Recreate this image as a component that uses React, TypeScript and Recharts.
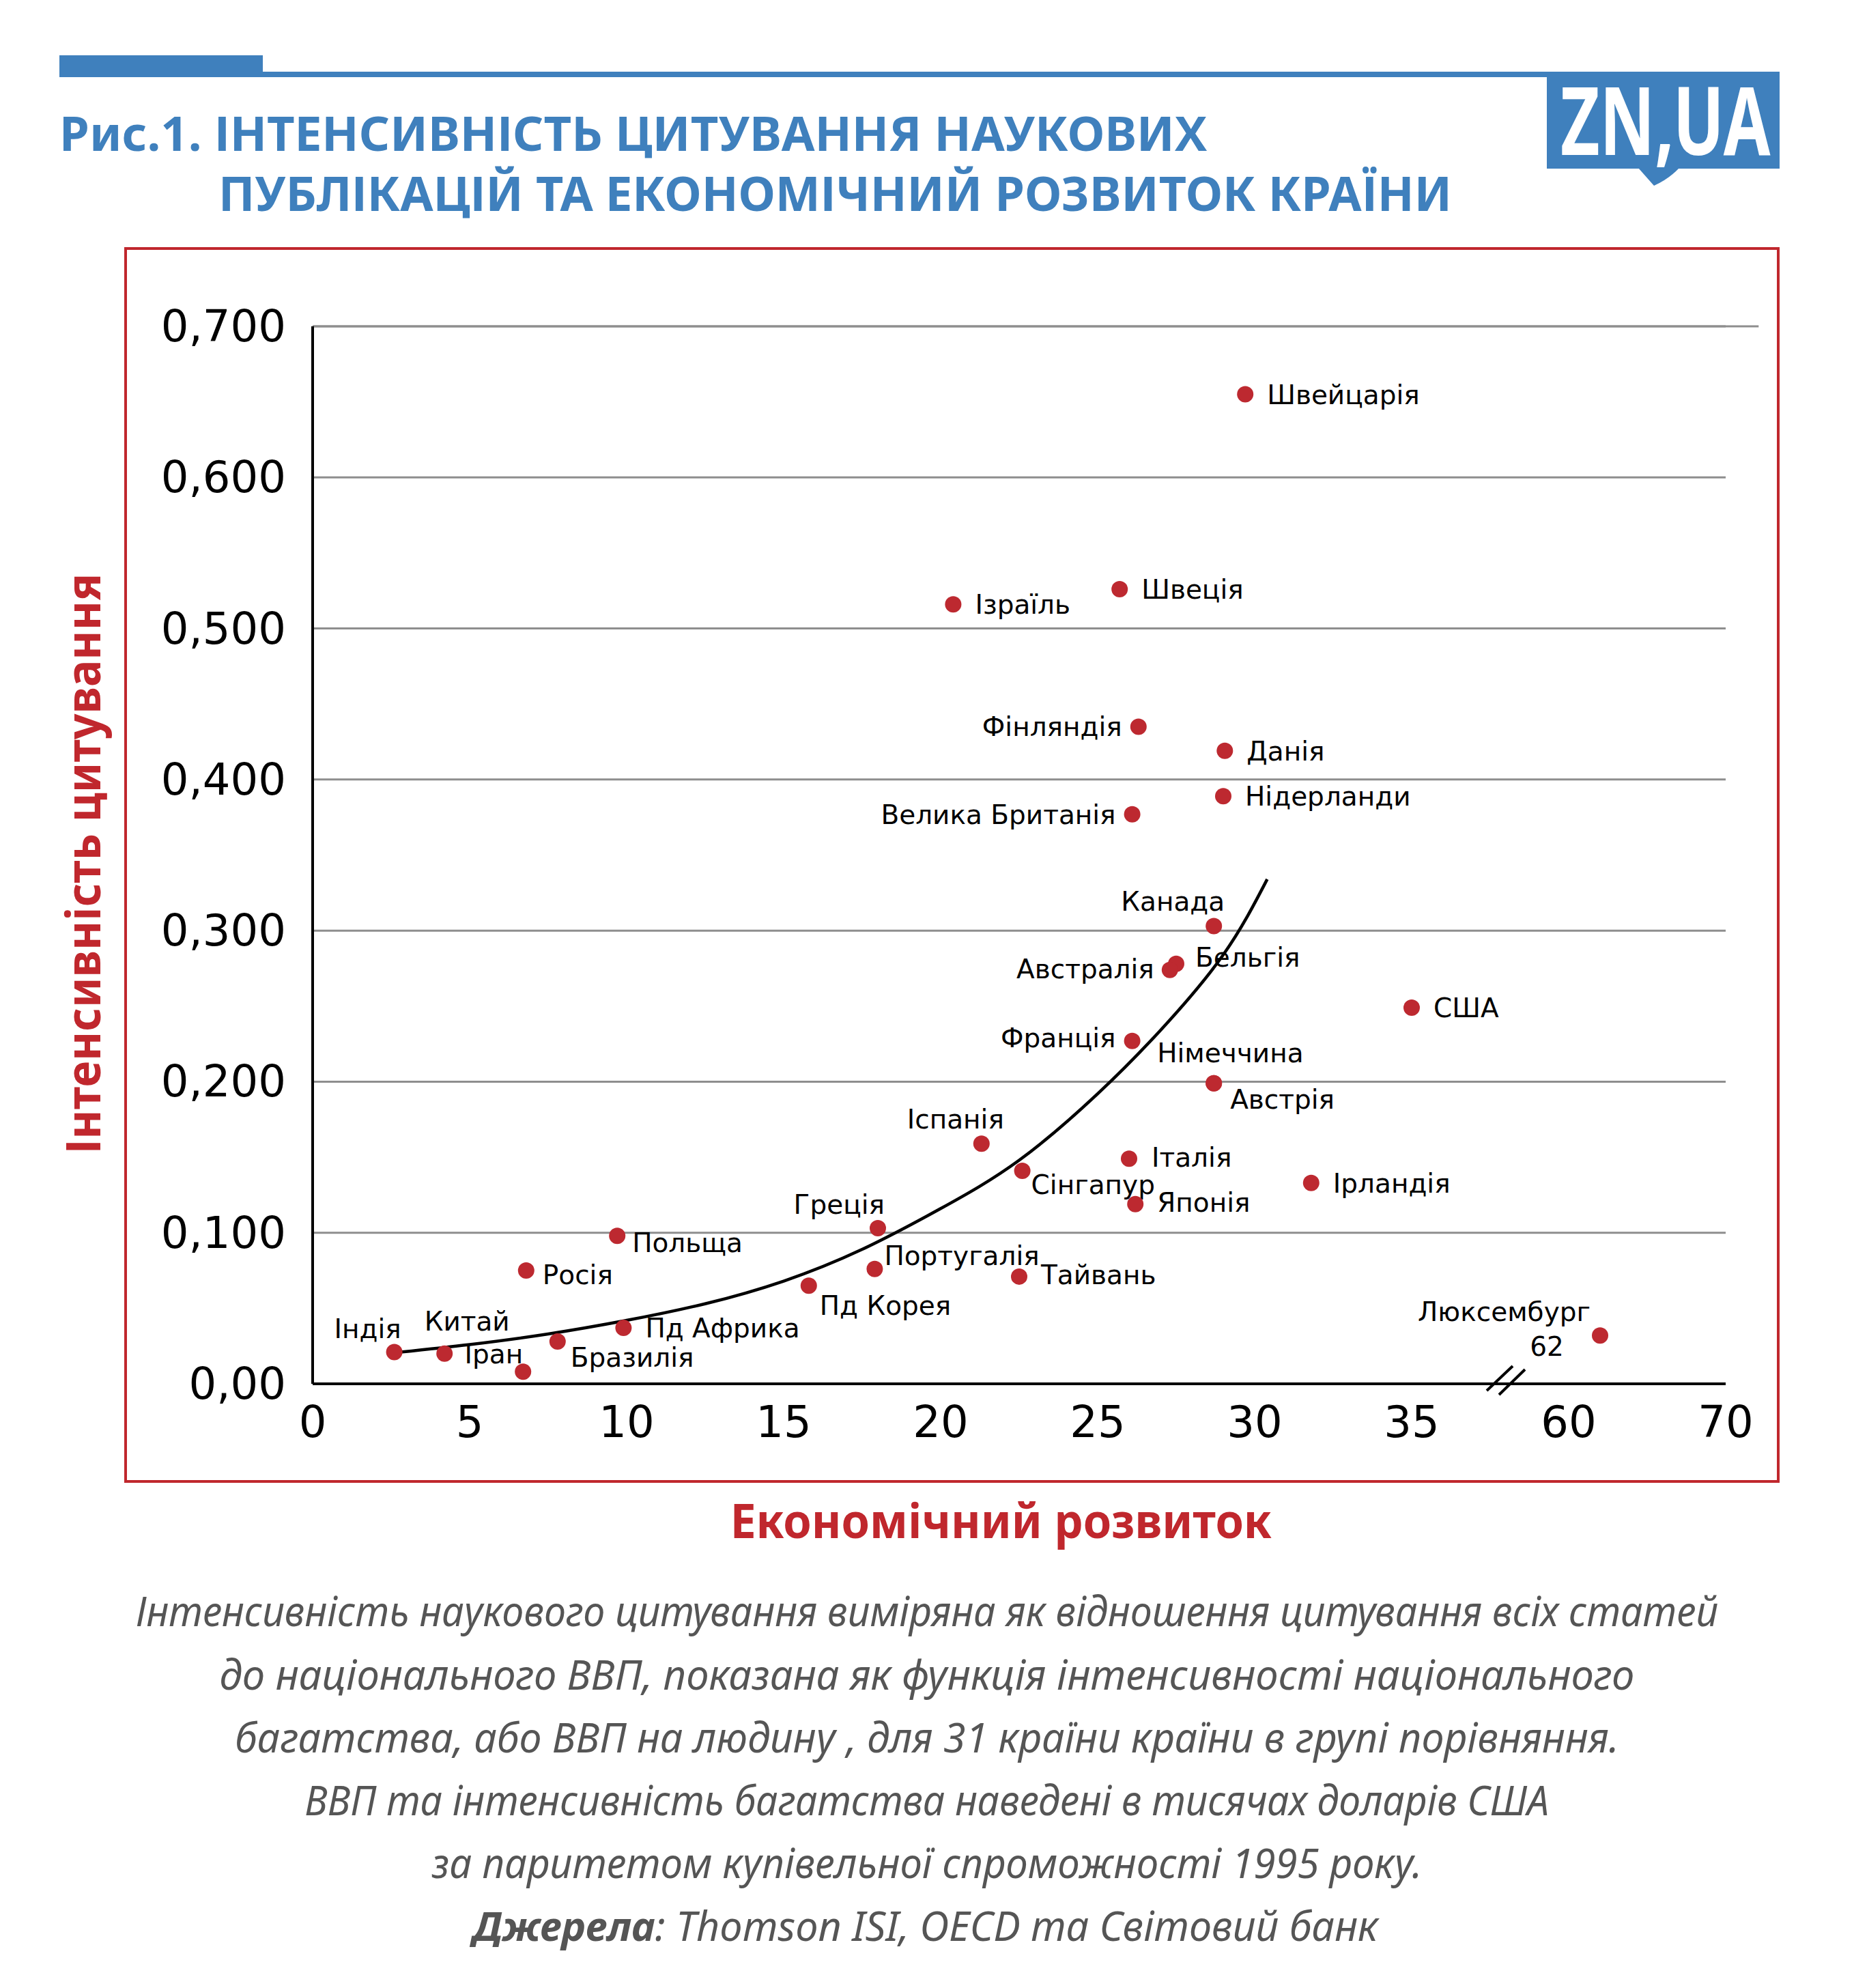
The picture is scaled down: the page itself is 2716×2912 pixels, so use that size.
import React from "react"
import {
  ComposedChart,
  Line,
  Scatter,
  XAxis,
  YAxis,
  CartesianGrid,
  ReferenceLine,
  ReferenceDot,
} from "recharts"

// country, GDP per capita (thousand USD, PPP 1995), citation intensity
const COUNTRIES = [
  "Швейцарія", "Ізраїль", "Швеція", "Фінляндія", "Данія", "Нідерланди",
  "Велика Британія", "Канада", "Бельгія", "Австралія", "США", "Франція",
  "Німеччина", "Австрія", "Іспанія", "Італія", "Сінгапур", "Ірландія",
  "Японія", "Греція", "Польща", "Португалія", "Росія", "Тайвань",
  "Пд Корея", "Пд Африка", "Бразилія", "Індія", "Китай", "Іран", "Люксембург",
]
const GDP = [
  29.7, 20.4, 25.7, 26.3, 29.05, 29.0,
  26.1, 28.7, 27.5, 27.3, 35.0, 26.1,
  28.7, 28.7, 21.3, 26.0, 22.6, 31.8,
  26.2, 18.0, 9.7, 17.9, 6.8, 22.5,
  15.8, 9.9, 7.8, 2.6, 4.2, 6.7, 62,
]
const CITATION = [
  0.655, 0.516, 0.526, 0.435, 0.419, 0.389,
  0.377, 0.303, 0.278, 0.274, 0.249, 0.227,
  0.199, 0.199, 0.159, 0.149, 0.141, 0.133,
  0.119, 0.103, 0.098, 0.076, 0.075, 0.071,
  0.065, 0.037, 0.028, 0.021, 0.020, 0.008, 0.032,
]

// fitted trend curve
const TREND_GDP = [2.8, 5, 7.5, 10, 12.5, 15, 17.5, 20, 22.5, 25, 27, 29, 30.4]
const TREND_CITATION = [
  0.021, 0.026, 0.033, 0.042, 0.053, 0.068, 0.089, 0.116, 0.148, 0.192, 0.234, 0.284, 0.334,
]

const X_TICKS = [0, 5, 10, 15, 20, 25, 30, 35, 60, 70]
const Y_TICKS = [0, 0.1, 0.2, 0.3, 0.4, 0.5, 0.6, 0.7]
const Y_TICK_LABELS = ["0,00", "0,100", "0,200", "0,300", "0,400", "0,500", "0,600", "0,700"]

const TITLE_LINES = [
  "Рис.1. ІНТЕНСИВНІСТЬ ЦИТУВАННЯ НАУКОВИХ",
  "ПУБЛІКАЦІЙ ТА ЕКОНОМІЧНИЙ РОЗВИТОК КРАЇНИ",
]
const CAPTION_LINES = [
  "Інтенсивність наукового цитування виміряна як відношення цитування всіх статей",
  "до національного ВВП, показана як функція інтенсивності національного",
  "багатства, або ВВП на людину , для 31 країни країни в групі порівняння.",
  "ВВП та інтенсивність багатства наведені в тисячах доларів США",
  "за паритетом купівельної спроможності 1995 року.",
]
const SOURCE_BOLD = "Джерела"
const SOURCE_REST = ": Thomson ISI, OECD та Світовий банк"

const BLUE = "#3f80bd"
const RED = "#c0272d"
const DOT = "#bd2930"
const GRID = "#8e8e8e"
const CAPTION = "#555555"

// axis is broken between 35 and 60; values past the break are compressed
const BREAK_FROM = 35
const BREAK_TO = 60
const toAxis = (v: number) => (v <= BREAK_FROM ? v : 40 + (v - BREAK_TO) / 2)
const X_AXIS_TICKS = X_TICKS.map(toAxis)

const points = COUNTRIES.map((name, i) => ({
  name,
  gdp: GDP[i],
  xt: toAxis(GDP[i]),
  y: CITATION[i],
}))
const trend = TREND_GDP.map((g, i) => ({ xt: toAxis(g), y: TREND_CITATION[i] }))

// label offset from dot centre: dx, dy (to text middle), anchor
const LABEL_POS: Record<string, [number, number, string]> = {
  "Швейцарія": [32, 0, "start"],
  "Ізраїль": [32, 0, "start"],
  "Швеція": [32, 0, "start"],
  "Фінляндія": [-24, 0, "end"],
  "Данія": [32, 0, "start"],
  "Нідерланди": [32, 0, "start"],
  "Велика Британія": [-24, 0, "end"],
  "Канада": [16, -37, "end"],
  "Бельгія": [28, -10, "start"],
  "Австралія": [-23, -2, "end"],
  "США": [32, 0, "start"],
  "Франція": [-24, -5, "end"],
  "Німеччина": [-83, -45, "start"],
  "Австрія": [24, 23, "start"],
  "Іспанія": [-38, -36, "middle"],
  "Італія": [33, -2, "start"],
  "Сінгапур": [13, 20, "start"],
  "Ірландія": [32, 0, "start"],
  "Японія": [32, -3, "start"],
  "Греція": [10, -35, "end"],
  "Польща": [22, 10, "start"],
  "Португалія": [14, -20, "start"],
  "Росія": [24, 6, "start"],
  "Тайвань": [32, -3, "start"],
  "Пд Корея": [16, 29, "start"],
  "Пд Африка": [32, 0, "start"],
  "Бразилія": [19, 23, "start"],
  "Індія": [-39, -35, "middle"],
  "Китай": [33, -48, "middle"],
  "Іран": [0, -26, "end"],
  "Люксембург": [-14, -35, "end"],
}

const LABEL_FONT = "'DejaVu Sans', sans-serif"
const HEAD_FONT = "'Noto Sans', sans-serif"

function CountryDot(props: any) {
  const { cx, cy, payload } = props
  const [dx, dy, anchor] = LABEL_POS[payload.name] ?? [32, 0, "start"]
  const broken = payload.gdp > BREAK_FROM
  return (
    <g>
      <circle cx={cx} cy={cy} r={12} fill={DOT} />
      <text
        x={cx + dx}
        y={cy + dy + 14}
        textAnchor={anchor as any}
        fontSize={39}
        fontFamily={LABEL_FONT}
        fill="#000"
      >
        {payload.name}
      </text>
      {broken && (
        <text
          x={cx - 78}
          y={cy + 16 + 14}
          textAnchor="middle"
          fontSize={39}
          fontFamily={LABEL_FONT}
          fill="#000"
        >
          {String(payload.gdp)}
        </text>
      )}
    </g>
  )
}

function XTick(props: any) {
  const { x, y, payload } = props
  const idx = X_AXIS_TICKS.indexOf(payload.value)
  return (
    <text x={x} y={y} textAnchor="middle" fontSize={64} fontFamily={LABEL_FONT} fill="#000">
      {idx >= 0 ? X_TICKS[idx] : payload.value}
    </text>
  )
}

function YTick(props: any) {
  const { x, y, payload } = props
  const idx = Y_TICKS.indexOf(payload.value)
  return (
    <text x={x} y={y + 22} textAnchor="end" fontSize={64} fontFamily={LABEL_FONT} fill="#000">
      {Y_TICK_LABELS[idx]}
    </text>
  )
}

function BreakMark(props: any) {
  const { cx, cy } = props
  return (
    <g stroke="#000" strokeWidth={4}>
      <line x1={cx - 28} y1={cy + 10} x2={cx + 10} y2={cy - 26} />
      <line x1={cx - 10} y1={cy + 16} x2={cx + 28} y2={cy - 21} />
    </g>
  )
}

function Decorations() {
  return (
    <svg width={2716} height={2912} style={{ position: "absolute", left: 0, top: 0 }}>
      {/* header bars */}
      <rect x={87} y={81} width={298} height={32} fill={BLUE} />
      <rect x={87} y={105} width={2520} height={8} fill={BLUE} />
      {/* logo */}
      <rect x={2266} y={105} width={341} height={142} fill={BLUE} />
      <path d="M2400 246 L2423 272 Q2445 262 2460 246 Z" fill={BLUE} />
      <g transform="translate(2286 227) scale(0.72 1)">
        <text x={0} y={0} fontSize={138} fontWeight={700} fontFamily={HEAD_FONT} fill="#fff">
          ZN,UA
        </text>
      </g>
      {/* title */}
      <text
        x={87}
        y={221}
        fontSize={70}
        fontWeight={700}
        fontFamily={HEAD_FONT}
        fill={BLUE}
        textLength={1681}
        lengthAdjust="spacingAndGlyphs"
      >
        {TITLE_LINES[0]}
      </text>
      <text
        x={320}
        y={309}
        fontSize={70}
        fontWeight={700}
        fontFamily={HEAD_FONT}
        fill={BLUE}
        textLength={1807}
        lengthAdjust="spacingAndGlyphs"
      >
        {TITLE_LINES[1]}
      </text>
      {/* chart frame */}
      <rect x={184} y={364} width={2421} height={1806} fill="none" stroke={RED} strokeWidth={4} />
      {/* axis titles */}
      <text
        x={1070}
        y={2253}
        fontSize={70}
        fontWeight={700}
        fontFamily={HEAD_FONT}
        fill={RED}
        textLength={793}
        lengthAdjust="spacingAndGlyphs"
      >
        Економічний розвиток
      </text>
      <text
        transform="translate(147 1265) rotate(-90)"
        x={0}
        y={0}
        textAnchor="middle"
        fontSize={70}
        fontWeight={700}
        fontFamily={HEAD_FONT}
        fill={RED}
        textLength={850}
        lengthAdjust="spacingAndGlyphs"
      >
        Інтенсивність цитування
      </text>
      {/* caption */}
      {CAPTION_LINES.map((line, i) => {
        const widths = [2318, 2073, 2028, 1823, 1451]
        const baselines = [2382, 2475, 2567, 2659, 2751]
        return (
          <text
            key={i}
            x={1358}
            y={baselines[i]}
            textAnchor="middle"
            fontSize={60}
            fontStyle="italic"
            fontFamily={HEAD_FONT}
            fill={CAPTION}
            textLength={widths[i]}
            lengthAdjust="spacingAndGlyphs"
          >
            {line}
          </text>
        )
      })}
      <text
        x={693}
        y={2843}
        fontSize={60}
        fontStyle="italic"
        fontFamily={HEAD_FONT}
        fill={CAPTION}
        textLength={1326}
        lengthAdjust="spacingAndGlyphs"
      >
        <tspan fontWeight={700}>{SOURCE_BOLD}</tspan>
        <tspan>{SOURCE_REST}</tspan>
      </text>
    </svg>
  )
}

export default function App() {
  return (
    <div
      style={{
        position: "absolute",
        left: 0,
        top: 0,
        width: 2716,
        height: 2912,
        background: "#fff",
        overflow: "hidden",
      }}
    >
      <Decorations />
      <div style={{ position: "absolute", left: 0, top: 0 }}>
        <ComposedChart
          width={2716}
          height={2200}
          margin={{ top: 478, right: 188, bottom: 0, left: 0 }}
        >
          <CartesianGrid horizontal vertical={false} stroke={GRID} strokeWidth={3} />
          <XAxis
            type="number"
            dataKey="xt"
            domain={[0, 45]}
            ticks={X_AXIS_TICKS}
            interval={0}
            height={173}
            tickLine={false}
            tickSize={0}
            tickMargin={78}
            axisLine={{ stroke: "#000", strokeWidth: 4 }}
            tick={<XTick />}
          />
          <YAxis
            type="number"
            dataKey="y"
            domain={[0, 0.7]}
            ticks={Y_TICKS}
            interval={0}
            width={458}
            tickLine={false}
            tickSize={0}
            tickMargin={39}
            axisLine={{ stroke: "#000", strokeWidth: 4 }}
            tick={<YTick />}
          />
          <ReferenceLine
            segment={[
              { x: 0, y: 0.7 },
              { x: 46.05, y: 0.7 },
            ]}
            ifOverflow="visible"
            stroke={GRID}
            strokeWidth={3}
          />
          <Line
            data={trend}
            dataKey="y"
            type="natural"
            stroke="#000"
            strokeWidth={4.5}
            dot={false}
            activeDot={false}
            isAnimationActive={false}
          />
          <Scatter
            data={points}
            isAnimationActive={false}
            shape={(p: any) => <CountryDot {...p} />}
          />
          <ReferenceDot x={38} y={0} ifOverflow="visible" shape={(p: any) => <BreakMark {...p} />} />
        </ComposedChart>
      </div>
    </div>
  )
}
